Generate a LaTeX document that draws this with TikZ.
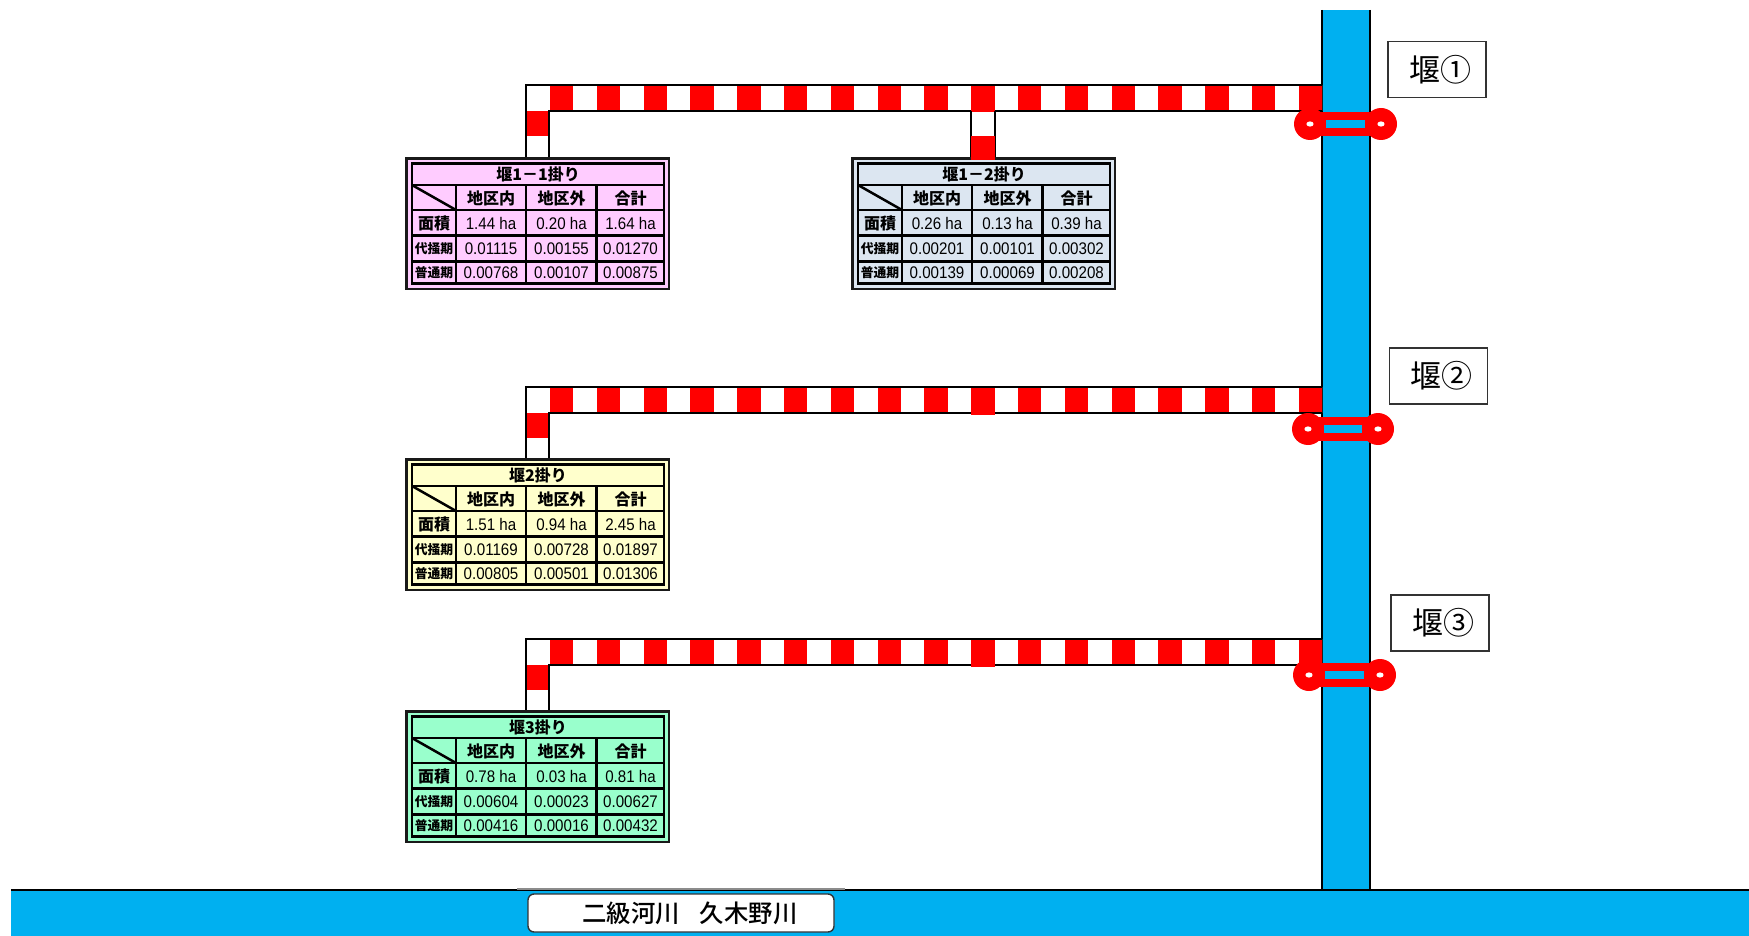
\documentclass[tikz,border=0pt]{standalone}
\usepackage{fontspec}
\setmainfont{Noto Sans CJK JP}
\newfontfamily\midfont{Noto Sans CJK JP Medium}
\newfontfamily\cellfont[FakeStretch=0.9]{Liberation Sans}
\usetikzlibrary{positioning,shapes.geometric}
\definecolor{river}{HTML}{00B0F0}
\definecolor{tintpink}{HTML}{FFCCFF}
\definecolor{tintblue}{HTML}{DCE6F1}
\definecolor{tintyellow}{HTML}{FFFFCC}
\definecolor{tintgreen}{HTML}{99FFCC}
\tikzset{water/.style={fill=river,draw=none}}
\tikzset{bank/.style={line width=1.3pt,black}}
\tikzset{canal/.style={line width=1.3pt,black,line join=miter}}
\tikzset{stripe/.style={fill=red,draw=none}}
\tikzset{weir bar/.style={draw=red,line width=4pt,fill=river}}
\tikzset{weir end/.style={circle,fill=red,draw=none,minimum size=16pt,inner sep=0pt}}
\tikzset{weir hole/.style={ellipse,fill=white,draw=none,minimum width=3.6pt,minimum height=2.6pt,inner sep=0pt}}
\tikzset{weir label/.style={draw=black!80,line width=.7pt,fill=white,minimum width=49pt,minimum height=28pt,inner sep=0pt,font=\fontsize{15.5}{15.5}\selectfont}}
\tikzset{river label/.style={draw=black!80,line width=.7pt,fill=white,rounded corners=3pt,minimum width=153pt,minimum height=19pt,inner sep=0pt,font=\midfont\fontsize{12.2}{12.2}\selectfont}}
\tikzset{grid line/.style={line width=1.25pt,black}}
\tikzset{frame line/.style={line width=1.4pt,black!90}}
\tikzset{head/.style={inner sep=0pt,font=\bfseries\fontsize{8}{8}\selectfont}}
\tikzset{side/.style={inner sep=0pt,font=\bfseries\fontsize{6.4}{6.4}\selectfont}}
\tikzset{cell/.style={inner sep=0pt,font=\cellfont\fontsize{8.4}{8.4}\selectfont}}

\begin{document}
\begin{tikzpicture}[x=.5pt,y=-.5pt]
\useasboundingbox (0,0) rectangle (1749,936);

\fill[water] (1322,10) rectangle (1370,890);
\draw[bank] (1322,10) -- (1322,890);
\draw[bank] (1370,10) -- (1370,890);
\fill[water] (11,890) rectangle (1749,936);
\draw[bank] (11,890) -- (1749,890);
\draw[line width=1pt,black!45] (517,889) -- (845,889);
\node[river label] (kuki) at (681,913) {\hspace*{9pt}二級河川\hspace{10pt}久木野川};

\foreach \n/\py in {1/85,2/387,3/639}{
  \fill[white] (526,\py) -- (1322,\py) -- (1322,\py+26) -- (549,\py+26) -- (549,\py+72) -- (526,\py+72) -- cycle;
  \foreach \k in {0,...,16}
    \fill[stripe] ({550+46.8*\k},\py) rectangle +(23.4,26);
  \fill[stripe] (526,\py+26) rectangle (549,\py+51);
  \draw[canal] (526,\py+72) -- (526,\py) -- (1322,\py);
  \draw[canal] (549,\py+72) -- (549,\py+26) -- (1322,\py+26);
  \fill[stripe] (971,\py+1.5) rectangle (995,\py+27.5);
}

\fill[white] (972,112) rectangle (994,157);
\draw[canal] (971,111) -- (971,157);
\draw[canal] (995,111) -- (995,157);

\foreach \n/\px/\py/\tint/\ttl/\ca/\cb/\cc/\da/\db/\dc/\ea/\eb/\ec in {
  a/405/157/tintpink/堰1－1掛り/1.44 ha/0.20 ha/1.64 ha/0.01115/0.00155/0.01270/0.00768/0.00107/0.00875,
  b/851/157/tintblue/堰1－2掛り/0.26 ha/0.13 ha/0.39 ha/0.00201/0.00101/0.00302/0.00139/0.00069/0.00208,
  c/405/458/tintyellow/堰2掛り/1.51 ha/0.94 ha/2.45 ha/0.01169/0.00728/0.01897/0.00805/0.00501/0.01306,
  d/405/710/tintgreen/堰3掛り/0.78 ha/0.03 ha/0.81 ha/0.00604/0.00023/0.00627/0.00416/0.00016/0.00432}{
\begin{scope}[shift={(\px,\py)}]
  \draw[frame line,fill=\tint] (1.5,1.5) rectangle (264,132);
  \draw[grid line] (7,6.3) rectangle (259,126.3);
  \foreach \ry in {28,53,78.7,104.7}
    \draw[grid line] (7,\ry) -- (259,\ry);
  \foreach \rx in {51,121,191.7}
    \draw[grid line] (\rx,28) -- (\rx,126.3);
  \draw[grid line] (7,28) -- (51,53);
  \node[head] (\n title) at (133,17.5) {\ttl};
  \node[head] (\n c1) at (86,41) {地区内};
  \node[head] (\n c2) at (156.5,41) {地区外};
  \node[head] (\n c3) at (225.5,41) {合計};
  \node[head] (\n r1) at (29,66) {面積};
  \node[side] (\n r2) at (29,91.5) {代掻期};
  \node[side] (\n r3) at (29,115.7) {普通期};
  \node[cell] (\n a1) at (86,66) {\ca};
  \node[cell] (\n a2) at (156.5,66) {\cb};
  \node[cell] (\n a3) at (225.5,66) {\cc};
  \node[cell] (\n b1) at (86,91.5) {\da};
  \node[cell] (\n b2) at (156.5,91.5) {\db};
  \node[cell] (\n b3) at (225.5,91.5) {\dc};
  \node[cell] (\n d1) at (86,115.7) {\ea};
  \node[cell] (\n d2) at (156.5,115.7) {\eb};
  \node[cell] (\n d3) at (225.5,115.7) {\ec};
\end{scope}
}

\fill[stripe] (971,136) rectangle (995,160);

\foreach \n/\lx/\rx/\wy in {1/1310/1381/124,2/1308/1378/429,3/1309/1380/675}{
  \draw[weir bar] (\lx+12,\wy-8) rectangle (\rx-12,\wy+8);
  \node[weir end] (wl\n) at (\lx,\wy) {};
  \node[weir end] (wr\n) at (\rx,\wy) {};
  \node[weir hole] (hl\n) at (wl\n) {};
  \node[weir hole] (hr\n) at (wr\n) {};
}

\node[weir label] (seki1) at (1437,69.5) {\hspace*{3pt}堰①};
\node[weir label] (seki2) at (1438.5,376) {\hspace*{3pt}堰②};
\node[weir label] (seki3) at (1440,623) {\hspace*{3pt}堰③};
\end{tikzpicture}
\end{document}
